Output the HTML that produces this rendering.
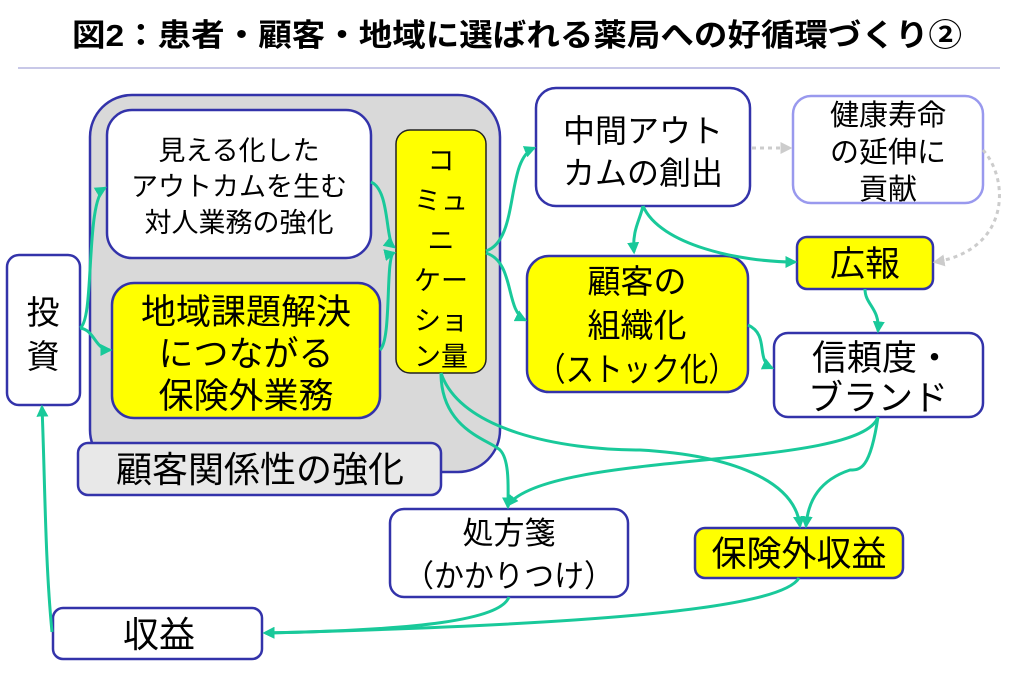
<!DOCTYPE html>
<html><head><meta charset="utf-8"><style>
html,body{margin:0;padding:0;background:#fff;}
svg{display:block;}
text{font-family:"Liberation Sans","Noto Sans CJK JP",sans-serif;fill:#000;}
</style></head><body>
<svg width="1015" height="692" viewBox="0 0 1015 692" xmlns="http://www.w3.org/2000/svg">
<defs>
<marker id="a" viewBox="0 0 10 10" refX="8" refY="5" markerWidth="4" markerHeight="4" orient="auto"><path d="M0,0L10,5L0,10z" fill="#19c99a"/></marker>
<marker id="g" viewBox="0 0 10 10" refX="8" refY="5" markerWidth="4" markerHeight="4" orient="auto"><path d="M0,0L10,5L0,10z" fill="#ccc"/></marker>
</defs>
<text x="517" y="46" font-size="31" font-weight="bold" text-anchor="middle" textLength="890" lengthAdjust="spacingAndGlyphs">図2：患者・顧客・地域に選ばれる薬局への好循環づくり②</text>
<line x1="18" y1="68" x2="1000" y2="68" stroke="#c8c8e8" stroke-width="2"/>

<rect x="90" y="95" width="410" height="377" rx="42" fill="#d9d9d9" stroke="#3333aa" stroke-width="2.5"/>
<rect x="107" y="110" width="264" height="148" rx="25" fill="#fff" stroke="#3333aa" stroke-width="2.5"/>
<text font-size="27" text-anchor="middle"><tspan x="239" y="160">見える化した</tspan><tspan x="239" y="196">アウトカムを生む</tspan><tspan x="239" y="232">対人業務の強化</tspan></text>
<rect x="112" y="283" width="268" height="135" rx="22" fill="#ff0" stroke="#3333aa" stroke-width="2.5"/>
<text font-size="35" text-anchor="middle"><tspan x="246" y="324">地域課題解決</tspan><tspan x="246" y="366">につながる</tspan><tspan x="246" y="408">保険外業務</tspan></text>
<rect x="396" y="130" width="90" height="243" rx="14" fill="#ff0" stroke="#222" stroke-width="1.5"/>
<text font-size="27" text-anchor="middle"><tspan x="441" y="170">コ</tspan><tspan x="441" y="210">ミュ</tspan><tspan x="441" y="250">ニ</tspan><tspan x="441" y="290">ケー</tspan><tspan x="441" y="330">ショ</tspan><tspan x="441" y="366">ン量</tspan></text>
<rect x="78" y="443" width="363" height="52" rx="10" fill="#e8e8e8" stroke="#3333aa" stroke-width="2.5"/>
<text x="260" y="482" font-size="36" text-anchor="middle">顧客関係性の強化</text>

<rect x="7" y="255" width="73" height="150" rx="12" fill="#fff" stroke="#3333aa" stroke-width="2.5"/>
<text font-size="33" text-anchor="middle"><tspan x="43" y="324">投</tspan><tspan x="43" y="368">資</tspan></text>

<rect x="536" y="88" width="214" height="118" rx="20" fill="#fff" stroke="#3333aa" stroke-width="2.5"/>
<text font-size="32" text-anchor="middle"><tspan x="643" y="142">中間アウト</tspan><tspan x="643" y="184">カムの創出</tspan></text>
<rect x="793" y="96" width="190" height="107" rx="18" fill="#fff" stroke="#9999ee" stroke-width="2.5"/>
<text font-size="29" text-anchor="middle"><tspan x="888" y="125">健康寿命</tspan><tspan x="888" y="162">の延伸に</tspan><tspan x="888" y="199">貢献</tspan></text>
<rect x="797" y="237" width="136" height="52" rx="10" fill="#ff0" stroke="#3333aa" stroke-width="2.5"/>
<text x="865" y="276" font-size="35" text-anchor="middle">広報</text>
<rect x="527" y="256" width="221" height="136" rx="22" fill="#ff0" stroke="#3333aa" stroke-width="2.5"/>
<text font-size="33" text-anchor="middle"><tspan x="637" y="293">顧客の</tspan><tspan x="637" y="337">組織化</tspan><tspan x="637" y="381" textLength="200" lengthAdjust="spacingAndGlyphs">（ストック化）</tspan></text>
<rect x="774" y="333" width="209" height="84" rx="14" fill="#fff" stroke="#3333aa" stroke-width="2.5"/>
<text font-size="35" text-anchor="middle"><tspan x="882" y="370">信頼度・</tspan><tspan x="878" y="410">ブランド</tspan></text>

<rect x="390" y="509" width="238" height="88" rx="14" fill="#fff" stroke="#3333aa" stroke-width="2.5"/>
<text font-size="31" text-anchor="middle"><tspan x="509" y="544">処方箋</tspan><tspan x="509" y="587" textLength="210" lengthAdjust="spacingAndGlyphs">（かかりつけ）</tspan></text>
<rect x="695" y="528" width="208" height="50" rx="10" fill="#ff0" stroke="#3333aa" stroke-width="2.5"/>
<text x="799" y="566" font-size="35" text-anchor="middle">保険外収益</text>
<rect x="53" y="608" width="209" height="51" rx="10" fill="#fff" stroke="#3333aa" stroke-width="2.5"/>
<text x="159" y="647" font-size="36" text-anchor="middle">収益</text>

<g fill="none" stroke="#19c99a" stroke-width="3" marker-end="url(#a)">
<path d="M80,328 C95,320 85,200 105,188"/>
<path d="M80,328 C95,330 95,350 110,350"/>
<path d="M371,182 C390,190 385,240 394,247"/>
<path d="M380,350 C392,340 385,255 394,253"/>
<path d="M486,251 C520,240 505,160 534,148"/>
<path d="M486,253 C515,262 505,310 525,320"/>
<path d="M643,206 C640,220 632,230 634,252"/>
<path d="M643,206 C660,245 740,262 795,262"/>
<path d="M748,325 C770,335 755,360 772,368"/>
<path d="M865,289 C865,305 880,308 878,331"/>
<path d="M441,373 C441,430 490,440 500,450 C510,460 508,490 508,507"/>
<path d="M441,373 C460,430 560,450 640,450 C730,455 795,480 800,526"/>
<path d="M878,417 C860,470 550,450 508,505"/>
<path d="M878,417 C870,470 860,470 850,470 C820,480 808,500 806,526"/>
<path d="M799,578 C780,610 580,625 265,633"/>
<path d="M509,597 C500,620 420,630 265,633"/>
<path d="M52,632 C45,560 45,480 42,407"/>
</g>
<g fill="none" stroke="#ccc" stroke-width="3" stroke-dasharray="4,4">
<path d="M752,148 L790,148" marker-end="url(#g)"/>
<path d="M983,150 C1010,180 1010,250 935,262" marker-end="url(#g)"/>
</g>
</svg>
</body></html>
